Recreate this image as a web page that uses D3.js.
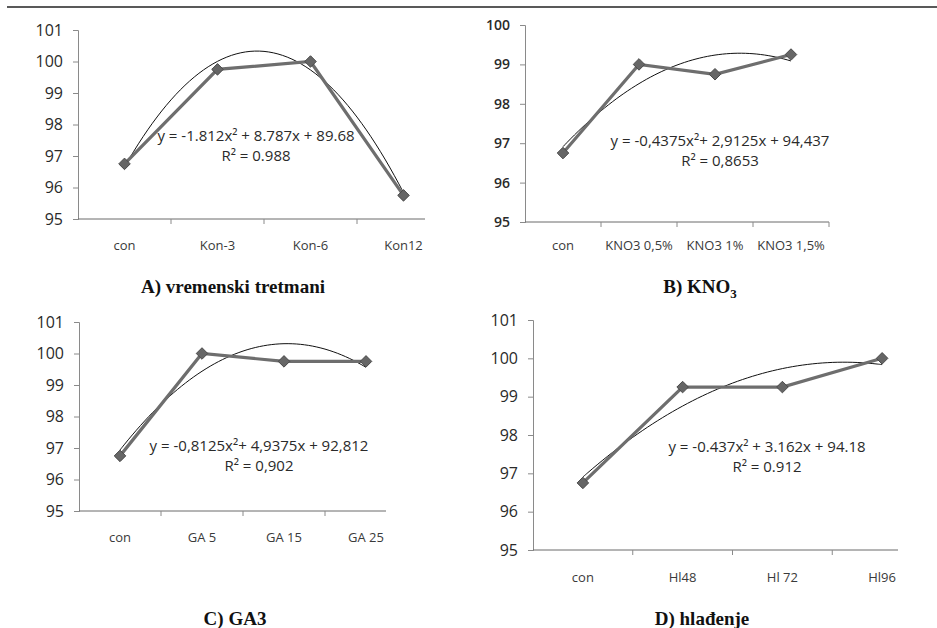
<!DOCTYPE html>
<html>
<head>
<meta charset="utf-8">
<script src="https://cdn.jsdelivr.net/npm/d3@7"></script>
<style>
  body { margin: 0; background: #fff; }
  svg { display: block; }
</style>
</head>
<body>
<svg id="chart" width="937" height="628"></svg>
<script>
// categories and values per panel
const catsA = ['con', 'Kon-3', 'Kon-6', 'Kon12'];
const valsA = [96.75, 99.75, 100, 95.75];
const trendA = [-1.812, 8.787, 89.68];

const catsB = ['con', 'KNO3 0,5%', 'KNO3 1%', 'KNO3 1,5%'];
const valsB = [96.75, 99, 98.75, 99.25];
const trendB = [-0.4375, 2.9125, 94.437];

const catsC = ['con', 'GA 5', 'GA 15', 'GA 25'];
const valsC = [96.75, 100, 99.75, 99.75];
const trendC = [-0.8125, 4.9375, 92.812];

const catsD = ['con', 'Hl48', 'Hl 72', 'Hl96'];
const valsD = [96.75, 99.25, 99.25, 100];
const trendD = [-0.437, 3.162, 94.18];

const ticksA = [95, 96, 97, 98, 99, 100, 101];
const ticksB = [95, 96, 97, 98, 99, 100];

const root = d3.select('#chart');

// header rule, cut off at the top of the page
root.append('line')
  .attr('x1', 7).attr('x2', 937).attr('y1', 7).attr('y2', 7)
  .attr('stroke', '#222').attr('stroke-width', 1.5);

const panels = [
  { cats: catsA, vals: valsA, trend: trendA, ticks: ticksA,
    x0: 78, x1: 450, lineEnd: 425, yTop: 30, yBot: 219, yFont: 16, yWeight: 400,
    eq: 'y = -1.812x² + 8.787x + 89.68', r2: 'R² = 0.988', eqX: 256, eqY: 141,
    labY: 250, title: 'A) vremenski tretmani', titleX: 233, titleY: 293 },
  { cats: catsB, vals: valsB, trend: trendB, ticks: ticksB,
    x0: 525, x1: 829, lineEnd: 829, yTop: 25, yBot: 222, yFont: 14, yWeight: 600,
    eq: 'y = -0,4375x²+ 2,9125x + 94,437', r2: 'R² = 0,8653', eqX: 720, eqY: 146,
    labY: 250, title: 'B) KNO', sub: '3', titleX: 700, titleY: 293 },
  { cats: catsC, vals: valsC, trend: trendC, ticks: ticksA,
    x0: 79, x1: 407, lineEnd: 386, yTop: 322, yBot: 511, yFont: 16, yWeight: 400,
    eq: 'y = -0,8125x²+ 4,9375x + 92,812', r2: 'R² = 0,902', eqX: 259, eqY: 451,
    labY: 542, title: 'C) GA3', titleX: 235, titleY: 625 },
  { cats: catsD, vals: valsD, trend: trendD, ticks: ticksA,
    x0: 533, x1: 932, lineEnd: 898, yTop: 320, yBot: 550, yFont: 16, yWeight: 400,
    eq: 'y = -0.437x² + 3.162x + 94.18', r2: 'R² = 0.912', eqX: 767, eqY: 452,
    labY: 582, title: 'D) hlađenje', titleX: 702, titleY: 625 },
];

panels.forEach(drawPanel);

function drawPanel(p) {
  const g = root.append('g');
  const x = d3.scaleBand().domain(p.cats).range([p.x0, p.x1]);
  const y = d3.scaleLinear().domain(d3.extent(p.ticks)).range([p.yBot, p.yTop]);
  const xc = (c) => x(c) + x.bandwidth() / 2;

  // y axis
  const ya = g.append('g')
    .attr('transform', `translate(${p.x0},0)`)
    .call(d3.axisLeft(y).tickValues(p.ticks).tickSize(5).tickPadding(10).tickFormat(d3.format('d')));
  ya.select('.domain').attr('stroke', '#8a8a8a');
  ya.selectAll('.tick line').attr('stroke', '#8a8a8a');
  ya.selectAll('text')
    .attr('fill', '#2a2a2a')
    .style('font-family', '"Open Sans", sans-serif')
    .style('font-weight', p.yWeight)
    .style('font-size', p.yFont + 'px');

  // x axis line + boundary ticks
  g.append('line')
    .attr('x1', p.x0).attr('x2', p.lineEnd)
    .attr('y1', p.yBot).attr('y2', p.yBot)
    .attr('stroke', '#6a6a6a');
  p.cats.slice(1).forEach((c) => {
    g.append('line')
      .attr('x1', x(c)).attr('x2', x(c))
      .attr('y1', p.yBot).attr('y2', p.yBot + 5)
      .attr('stroke', '#8a8a8a');
  });
  if (p.lineEnd >= p.x1) {
    g.append('line')
      .attr('x1', p.x1).attr('x2', p.x1)
      .attr('y1', p.yBot).attr('y2', p.yBot + 5)
      .attr('stroke', '#8a8a8a');
  }

  g.selectAll('.xlab')
    .data(p.cats)
    .join('text')
    .attr('x', xc)
    .attr('y', p.labY)
    .attr('text-anchor', 'middle')
    .attr('fill', '#3a3a3a')
    .style('font-family', '"Open Sans", sans-serif')
    .style('font-size', '13px')
    .text((d) => d);

  // polynomial trendline from the printed equation
  const [a, b, c0] = p.trend;
  const idx = d3.range(1, 4.001, 0.05);
  const idxX = d3.scaleLinear().domain([1, p.cats.length]).range([xc(p.cats[0]), xc(p.cats[p.cats.length - 1])]);
  g.append('path')
    .datum(idx)
    .attr('fill', 'none')
    .attr('stroke', '#111')
    .attr('stroke-width', 1)
    .attr('d', d3.line().x((t) => idxX(t)).y((t) => y(a * t * t + b * t + c0)).curve(d3.curveBasis));

  // data series
  const pts = p.cats.map((cat, i) => ({ cat, v: p.vals[i] }));
  g.append('path')
    .datum(pts)
    .attr('fill', 'none')
    .attr('stroke', '#6e6e6e')
    .attr('stroke-width', 3.2)
    .attr('d', d3.line().x((d) => xc(d.cat)).y((d) => y(d.v)));

  g.selectAll('.mark')
    .data(pts)
    .join('path')
    .attr('transform', (d) => `translate(${xc(d.cat)},${y(d.v)})`)
    .attr('d', d3.symbol(d3.symbolDiamond2, 85))
    .attr('fill', '#666')
    .attr('stroke', '#4a4a4a')
    .attr('stroke-width', 1);

  // equation labels
  const eqStyle = (s) => s
    .attr('text-anchor', 'middle')
    .attr('fill', '#2a2a2a')
    .style('font-family', '"Open Sans", sans-serif')
    .style('font-size', '15px');
  g.append('text').attr('x', p.eqX).attr('y', p.eqY).call(eqStyle).text(p.eq);
  g.append('text').attr('x', p.eqX).attr('y', p.eqY + 20).call(eqStyle).text(p.r2);

  // panel caption
  const t = g.append('text')
    .attr('x', p.titleX).attr('y', p.titleY)
    .attr('text-anchor', 'middle')
    .attr('fill', '#111')
    .style('font-family', '"Liberation Serif", "Times New Roman", serif')
    .style('font-weight', 'bold')
    .style('font-size', '19px')
    .text(p.title);
  if (p.sub) {
    t.append('tspan').attr('dy', 5).style('font-size', '13px').text(p.sub);
  }
}
</script>
</body>
</html>
